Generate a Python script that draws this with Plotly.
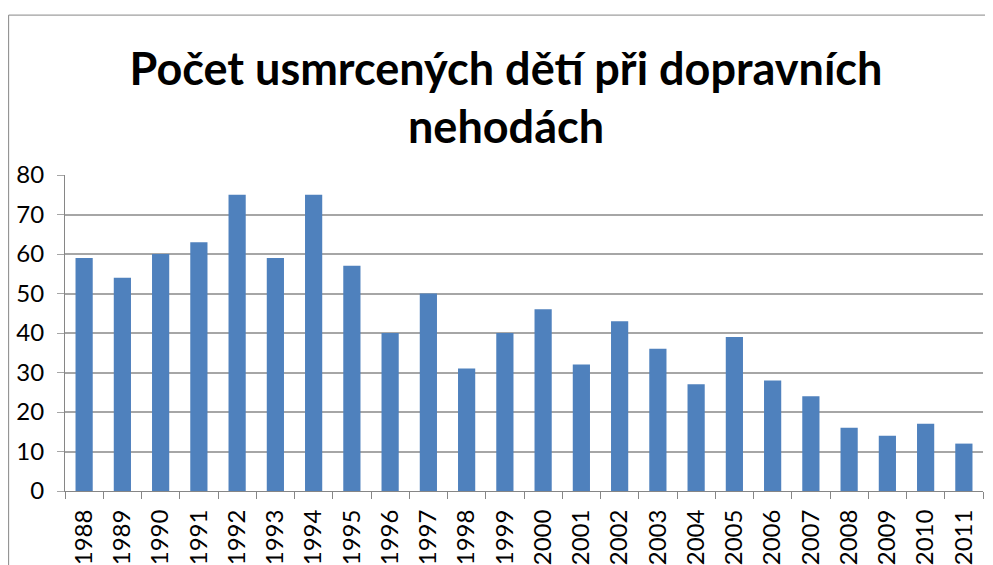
import plotly.graph_objects as go

# Počet usmrcených dětí při dopravních nehodách, 1988–2011
years = [str(y) for y in range(1988, 2012)]
deaths = [59, 54, 60, 63, 75, 59, 75, 57, 40, 50, 31, 40,
          46, 32, 43, 36, 27, 39, 28, 24, 16, 14, 17, 12]
y_ticks = [0, 10, 20, 30, 40, 50, 60, 70, 80]

BAR = "#4F81BD"
GRID = "#A6A6A6"
FONT = "Lato, Carlito, sans-serif"

fig = go.Figure()
fig.add_trace(go.Bar(
    x=years,
    y=deaths,
    marker=dict(color=BAR, line=dict(width=0)),
    hovertemplate="%{x}: %{y}<extra></extra>",
))

# chart frame (cropped on the right and bottom, as in the original)
fig.add_shape(
    type="rect", xref="paper", yref="paper",
    x0=-0.0614, x1=1.2, y0=-1.0, y1=1.506,
    line=dict(color="#868686", width=1), layer="below",
)

fig.update_layout(
    title=dict(
        text="<b>Počet usmrcených dětí při dopravních<br>nehodách</b>",
        font=dict(family=FONT, size=45, color="#000000"),
        x=0.5056, xanchor="center", xref="container",
        y=0.862, yanchor="middle", yref="container",
    ),
    xaxis=dict(
        type="category",
        tickangle=-90,
        ticks="outside", ticklen=7, tickcolor="#868686",
        tickson="boundaries",
        showline=True, linecolor="#868686", linewidth=1,
        showgrid=False,
        tickfont=dict(family=FONT, size=24, color="#000000"),
        ticklabelstandoff=8,
    ),
    yaxis=dict(
        range=[0, 80],
        tickvals=y_ticks,
        ticks="outside", ticklen=7, tickcolor=GRID,
        showline=True, linecolor="#868686", linewidth=1,
        showgrid=True, gridcolor=GRID, gridwidth=1.5,
        zeroline=False,
        tickfont=dict(family=FONT, size=24, color="#000000"),
        ticklabelstandoff=8,
    ),
    bargap=0.55,
    showlegend=False,
    paper_bgcolor="white",
    plot_bgcolor="white",
    font=dict(family=FONT, color="#000000"),
    width=985, height=557,
    margin=dict(l=57, r=10, t=167, b=74, autoexpand=False),
)

fig.write_html("out.html")
